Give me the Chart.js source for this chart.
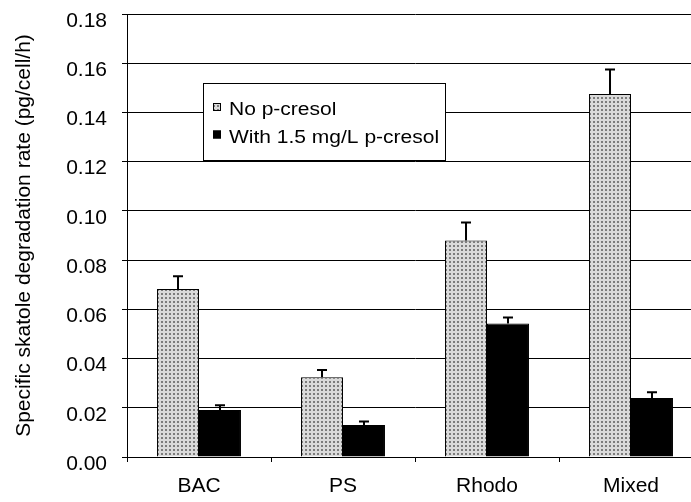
<!DOCTYPE html>
<html>
<head>
<meta charset="utf-8">
<script src="https://cdn.jsdelivr.net/npm/chart.js@4"></script>
<style>
  html, body { margin: 0; padding: 0; background: #fff; overflow: hidden; }
  #wrap { width: 691px; height: 502px; overflow: hidden; }
</style>
</head>
<body>
<div id="wrap"><canvas id="skatoleChart" width="703" height="502"></canvas></div>
<script>
const categories = ["BAC", "PS", "Rhodo", "Mixed"];
const noCresol = [0.0683, 0.0324, 0.0880, 0.1475];
const noCresolErr = [0.0051, 0.0029, 0.0073, 0.0099];
const withCresol = [0.0191, 0.0130, 0.0542, 0.0240];
const withCresolErr = [0.0019, 0.0014, 0.0025, 0.0023];
const yTicks = [0, 0.02, 0.04, 0.06, 0.08, 0.10, 0.12, 0.14, 0.16, 0.18];

const fontFamily = "'Liberation Sans', Arial, sans-serif";

const canvasEl = document.getElementById("skatoleChart");
const ctx = canvasEl.getContext("2d");

// dotted grey fill, like the original excel pattern
const tile = document.createElement("canvas");
tile.width = 4;
tile.height = 4;
const tctx = tile.getContext("2d");
tctx.fillStyle = "#dadada";
tctx.fillRect(0, 0, 4, 4);
tctx.fillStyle = "#7c7c7c";
tctx.fillRect(1, 1, 2, 2);
const dotFill = ctx.createPattern(tile, "repeat");

// upper error bars only
const errorBars = {
    id: "errorBars",
    afterDatasetsDraw(chart) {
        const c = chart.ctx;
        const yScale = chart.scales.y;
        c.save();
        c.strokeStyle = "#000";
        c.lineWidth = 2;
        chart.data.datasets.forEach((ds, di) => {
            chart.getDatasetMeta(di).data.forEach((bar, i) => {
                const top = yScale.getPixelForValue(ds.data[i] + ds.errors[i]);
                c.beginPath();
                c.moveTo(bar.x, bar.y);
                c.lineTo(bar.x, top);
                c.moveTo(bar.x - 5, top);
                c.lineTo(bar.x + 5, top);
                c.stroke();
            });
        });
        c.restore();
    }
};

// boxed legend inside the plot
const boxLegend = {
    id: "boxLegend",
    afterDraw(chart, args, opts) {
        const c = chart.ctx;
        c.save();
        c.fillStyle = "#fff";
        c.fillRect(opts.x, opts.y, opts.w, opts.h);
        c.strokeStyle = "#000";
        c.lineWidth = 1;
        c.strokeRect(opts.x + 0.5, opts.y + 0.5, opts.w, opts.h);
        chart.data.datasets.forEach((ds, i) => {
            const base = opts.y + opts.firstBaseline + i * opts.rowGap;
            c.fillStyle = ds.backgroundColor;
            c.fillRect(opts.x + 10, base - 12, 8, 8);
            c.strokeRect(opts.x + 10.5, base - 11.5, 7, 7);
            c.save();
            c.translate(opts.x + 26, base);
            c.scale(1.2, 1);
            c.font = "17.5px " + fontFamily;
            c.fillStyle = "#000";
            c.textBaseline = "alphabetic";
            c.fillText(ds.label, 0, 0);
            c.restore();
        });
        c.restore();
    }
};

const tickFont = { family: fontFamily, size: 21 };

new Chart(ctx, {
    type: "bar",
    data: {
        labels: categories,
        datasets: [{
            label: "No p-cresol",
            data: noCresol,
            errors: noCresolErr,
            backgroundColor: dotFill,
            borderColor: "#000",
            borderWidth: 1,
        }, {
            label: "With 1.5 mg/L p-cresol",
            data: withCresol,
            errors: withCresolErr,
            backgroundColor: "#000",
            borderColor: "#000",
            borderWidth: 1,
        }],
    },
    options: {
        responsive: false,
        animation: false,
        categoryPercentage: 0.583,
        barPercentage: 1,
        layout: { padding: { top: 14, left: 0, right: 0, bottom: 0 } },
        plugins: {
            legend: { display: false },
            tooltip: { enabled: false },
            boxLegend: { x: 203, y: 83, w: 242, h: 77, firstBaseline: 32, rowGap: 27.5 },
        },
        scales: {
            x: {
                afterFit: (s) => { s.height = 45; s.paddingLeft = 0; s.paddingRight = 0; },
                border: { color: "#000", width: 1 },
                grid: { drawOnChartArea: false, offset: true, tickLength: 5, color: "#000" },
                ticks: { color: "#000", font: tickFont, padding: 12 },
            },
            y: {
                min: 0,
                max: 0.18,
                afterFit: (s) => { s.width = 127; s.paddingTop = 0; s.paddingBottom = 0; },
                afterBuildTicks: (s) => { s.ticks = yTicks.map(v => ({ value: v })); },
                border: { color: "#000", width: 1 },
                grid: { color: "#000", lineWidth: 1, tickLength: 5 },
                ticks: {
                    color: "#000",
                    font: tickFont,
                    padding: 15,
                    labelOffset: 7,
                    callback: (v) => Number(v).toFixed(2),
                },
                title: {
                    display: true,
                    text: "Specific skatole degradation rate (pg/cell/h)",
                    color: "#000",
                    font: { family: fontFamily, size: 21 },
                    padding: { top: 12, bottom: 0 },
                },
            },
        },
    },
    plugins: [errorBars, boxLegend],
});
</script>
</body>
</html>
